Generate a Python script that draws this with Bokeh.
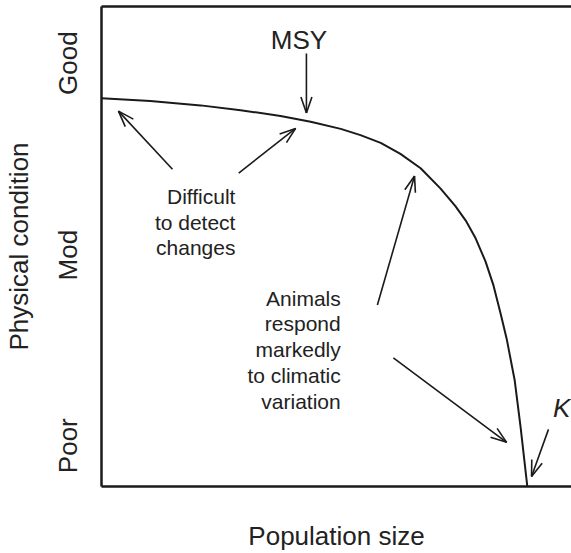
import numpy as np
from bokeh.plotting import figure
from bokeh.models import FixedTicker, LinearAxis
from bokeh.core.properties import value
from bokeh.embed import file_html
from bokeh.resources import INLINE

# ---- data (x: population size 0-100, y: physical condition 0-100)
pop_size = [0, 10.4, 21.1, 29.6, 38.1, 44.5, 50.9, 55.1, 59.4, 63.6, 67.9, 72.1,
            75.3, 77.5, 79.6, 81.7, 83.4, 84.9, 86.2, 87.9, 89.2, 90.0, 90.6]
condition = [80.9, 80.3, 79.4, 78.4, 77.2, 76.0, 74.5, 73.2, 71.6, 69.3, 66.3, 62.1,
             58.4, 55.4, 51.7, 46.9, 41.9, 36.1, 30.8, 22.2, 12.1, 5.2, 0.0]

tick_positions = [8.5, 48.2, 88.2]
tick_labels = ["Poor", "Mod", "Good"]

arrow_x_start = [15.1, 29.2, 43.6, 58.7, 62.1, 95.1]
arrow_y_start = [66.1, 65.3, 90.2, 37.8, 26.8, 11.9]
arrow_x_end = [3.6, 41.3, 43.6, 66.6, 86.2, 91.5]
arrow_y_end = [78.2, 74.6, 77.8, 64.7, 9.2, 2.1]

note_lines = ["Difficult", "to detect", "changes",
              "Animals", "respond", "markedly", "to climatic", "variation"]
note_x = [28.5, 28.5, 28.5, 50.9, 50.9, 50.9, 50.9, 50.9]
note_y = [60.4, 55.0, 49.8, 39.2, 34.0, 28.6, 23.2, 17.8]

FONT = "Liberation Sans"
INK = "#1a1a1a"
TXT = "#222222"

W, H = 571, 553
BL, BR, BT, BB = 101, 0, 6, 66

p = figure(width=W, height=H, x_range=(0, 100), y_range=(0, 100),
           output_backend="svg", toolbar_location=None,
           min_border_left=BL, min_border_right=BR, min_border_top=BT, min_border_bottom=BB)
p.outline_line_color = None
p.grid.visible = False
p.background_fill_color = "white"
p.border_fill_color = "white"

# bottom axis
xa = p.xaxis[0]
xa.ticker = FixedTicker(ticks=[])
xa.axis_label = "Population size"
xa.axis_label_text_font = FONT
xa.axis_label_text_font_size = "26px"
xa.axis_label_text_font_style = "normal"
xa.axis_label_text_color = TXT
xa.axis_label_standoff = 34
xa.axis_line_width = 2.5
xa.axis_line_color = INK
xa.major_tick_out = 0
xa.major_tick_line_color = None
xa.minor_tick_line_color = None
xa.major_label_standoff = 0
xa.major_label_text_font_size = "0px"

# left axis
ya = p.yaxis[0]
ya.ticker = FixedTicker(ticks=tick_positions)
ya.major_label_overrides = {t: l for t, l in zip(tick_positions, tick_labels)}
ya.major_label_orientation = "vertical"
ya.major_label_text_font = FONT
ya.major_label_text_font_size = "26px"
ya.major_label_text_color = TXT
ya.major_label_standoff = 18
ya.axis_label = "Physical condition"
ya.axis_label_text_font = FONT
ya.axis_label_text_font_size = "26px"
ya.axis_label_text_font_style = "normal"
ya.axis_label_text_color = TXT
ya.axis_label_standoff = 17
ya.axis_line_width = 2.5
ya.axis_line_color = INK
ya.major_tick_out = 0
ya.major_tick_in = 0
ya.major_tick_line_color = None
ya.minor_tick_line_color = None

# top line
top = LinearAxis(ticker=FixedTicker(ticks=[]), major_label_text_font_size="0px",
                 major_tick_out=0, major_label_standoff=0,
                 axis_line_width=2.5, axis_line_color=INK,
                 major_tick_line_color=None, minor_tick_line_color=None)
p.add_layout(top, "above")

# curve
p.line(pop_size, condition, line_color=INK, line_width=2)

# arrows with open heads, computed in pixel space
sx = (W - BL - BR) / 100.0
sy = (H - BT - BB) / 100.0
xs0, ys0, xs1, ys1 = [np.array(a, dtype=float) for a in (arrow_x_start, arrow_y_start, arrow_x_end, arrow_y_end)]
p.segment(xs0, ys0, xs1, ys1, line_color=INK, line_width=1.6)
L, Wd = 16.0, 5.5
dxp = (xs1 - xs0) * sx
dyp = (ys1 - ys0) * sy
n = np.hypot(dxp, dyp)
ux, uy = dxp / n, dyp / n
wx0, wy0, wx1, wy1 = [], [], [], []
for s in (1, -1):
    bx = xs1 + (-L * ux + s * Wd * (-uy)) / sx
    by = ys1 + (-L * uy + s * Wd * ux) / sy
    wx0 += list(bx); wy0 += list(by); wx1 += list(xs1); wy1 += list(ys1)
p.segment(wx0, wy0, wx1, wy1, line_color=INK, line_width=1.6)

# text notes
p.text(x=note_x, y=note_y, text=note_lines, text_font=value(FONT), text_font_size="21px",
       text_align="right", text_baseline="alphabetic", text_color=TXT)
p.text(x=[42.0], y=[93.1], text=["MSY"], text_font=value(FONT), text_font_size="26px",
       text_align="center", text_baseline="alphabetic", text_color=TXT)
p.text(x=[97.9], y=[16.4], text=["K"], text_font=value(FONT), text_font_size="26px",
       text_font_style="italic", text_align="center", text_baseline="alphabetic", text_color=TXT)

open("out.html", "w").write(file_html(p, INLINE))
